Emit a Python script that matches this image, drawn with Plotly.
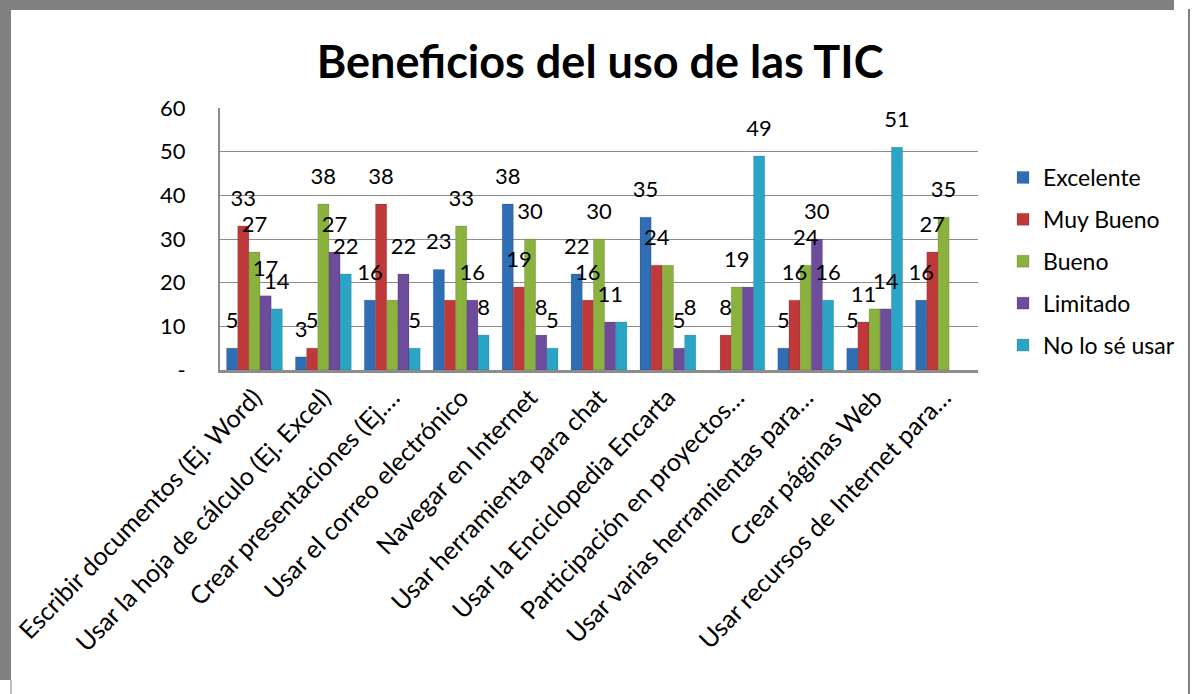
import plotly.graph_objects as go

# ── Data ────────────────────────────────────────────────────────────────────
categorias = [
    "Escribir documentos (Ej. Word)",
    "Usar la hoja de cálculo (Ej. Excel)",
    "Crear presentaciones (Ej.…",
    "Usar el correo electrónico",
    "Navegar en Internet",
    "Usar herramienta para chat",
    "Usar la Enciclopedia Encarta",
    "Participación en proyectos…",
    "Usar varias herramientas para…",
    "Crear páginas Web",
    "Usar recursos de Internet para…",
]

excelente  = [5, 3, 16, 23, 38, 22, 35, None, 5, 5, 16]
muy_bueno  = [33, 5, 38, 16, 19, 16, 24, 8, 16, 11, 27]
bueno      = [27, 38, 16, 33, 30, 30, 24, 19, 24, 14, 35]
limitado   = [17, 27, 22, 16, 8, 11, 5, 19, 30, 14, None]
no_lo_se   = [14, 22, 5, 8, 5, 11, 8, 49, 16, 51, None]

# data labels the original chart hides because they collide with a neighbour
ocultas = {
    "Muy Bueno":     [3],
    "Bueno":         [2, 6, 9],
    "Limitado":      [7],
    "No lo sé usar": [5],
}

series = [
    ("Excelente",     excelente, "#2F6DB5"),
    ("Muy Bueno",     muy_bueno, "#C0393A"),
    ("Bueno",         bueno,     "#8BB13E"),
    ("Limitado",      limitado,  "#6E4C9C"),
    ("No lo sé usar", no_lo_se,  "#2AA5C5"),
]

y_ticks  = [0, 10, 20, 30, 40, 50, 60]
y_labels = ["-", "10", "20", "30", "40", "50", "60"]

FONT = "Lato, Calibri, sans-serif"
W, H = 1193, 694
GAP = 0.19

# ── Figure ──────────────────────────────────────────────────────────────────
fig = go.Figure()
for name, vals, col in series:
    fig.add_trace(go.Bar(
        x=categorias, y=vals, name=name, legendgroup=name, offsetgroup=name,
        marker=dict(color=col, line=dict(color="rgba(0,0,0,0.25)", width=0.5)),
    ))

# data labels: grouped scatter text sitting a little above each bar
for name, vals, col in series:
    skip = ocultas.get(name, [])
    labels = ["" if (v is None or i in skip) else str(v) for i, v in enumerate(vals)]
    fig.add_trace(go.Scatter(
        x=categorias, y=vals, offsetgroup=name, legendgroup=name,
        mode="markers+text", text=labels, textposition="top center",
        marker=dict(size=22, color="rgba(0,0,0,0)"),
        textfont=dict(size=22, color="#000000", family=FONT),
        showlegend=False, hoverinfo="skip", cliponaxis=False,
    ))

# plot area in pixels → domain fractions (no margins)
px_l, px_r, px_t, px_b = 220, 978, 108, 370


def fx(px):
    return px / W


def fy(py):
    return 1 - py / H


# gray frame around the chart (screenshot border)
frame = [
    dict(type="rect", x0=fx(0), x1=fx(1174), y0=fy(10), y1=fy(0)),
    dict(type="rect", x0=fx(0), x1=fx(11), y0=fy(680), y1=fy(0)),
    dict(type="rect", x0=fx(1188), x1=fx(1190), y0=fy(694), y1=fy(9)),
]
shapes = [dict(s, xref="paper", yref="paper", fillcolor="#808080",
               line=dict(width=0), layer="above") for s in frame]
shapes.append(dict(type="line", xref="paper", yref="paper",
                   x0=fx(11), x1=fx(11), y0=fy(694), y1=fy(680),
                   line=dict(color="#808080", width=1)))

fig.update_layout(
    width=W, height=H,
    margin=dict(l=0, r=0, t=0, b=0, autoexpand=False),
    paper_bgcolor="#ffffff",
    plot_bgcolor="#ffffff",
    barmode="group",
    bargap=GAP,
    bargroupgap=0,
    scattermode="group",
    scattergap=GAP,
    font=dict(family=FONT, color="#000000"),
    title=dict(
        text="<b>Beneficios del uso de las TIC</b>",
        x=0.503, xanchor="center", y=fy(62), yanchor="middle",
        font=dict(size=45, family=FONT, color="#000000"),
    ),
    xaxis=dict(
        domain=[fx(px_l), fx(px_r)],
        automargin=False,
        tickangle=-46,
        tickfont=dict(size=25, family=FONT, color="#000000"),
        showline=True, linecolor="#8C8C8C", linewidth=3,
        showgrid=False, ticks="",
    ),
    yaxis=dict(
        domain=[fy(px_b), fy(px_t)],
        automargin=False,
        range=[0, 60],
        tickvals=y_ticks, ticktext=y_labels,
        tickfont=dict(size=22, family=FONT, color="#000000"),
        showgrid=True, gridcolor="#8C8C8C", gridwidth=1,
        showline=True, linecolor="#8C8C8C", linewidth=2,
        zeroline=False, ticks="", ticklabelstandoff=28,
    ),
    legend=dict(
        x=fx(1003), xanchor="left", y=fy(156), yanchor="top",
        font=dict(size=23, family=FONT, color="#000000"),
        bgcolor="rgba(0,0,0,0)",
        itemwidth=30,
        tracegroupgap=9,
    ),
    shapes=shapes,
)

# drop the default 8px body margin so the chart fills the window exactly
fig.write_html(
    "out.html",
    config={"displayModeBar": False},
    post_script="document.body.style.margin='0px';",
)
